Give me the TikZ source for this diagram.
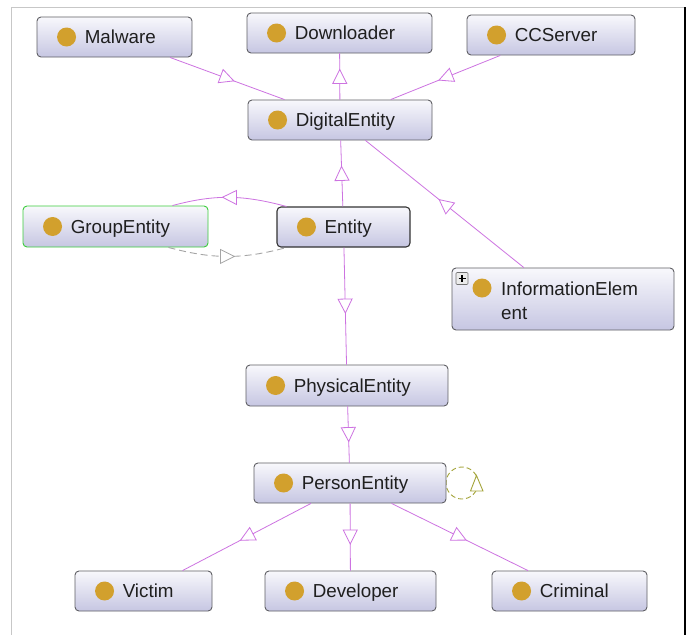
\documentclass[tikz,border=0pt]{standalone}
\usepackage{fontspec}
\setmainfont{Liberation Sans}
\usetikzlibrary{decorations.markings,calc}

\definecolor{edgec}{RGB}{205,115,225}
\definecolor{boxtop}{RGB}{248,248,252}
\definecolor{boxbot}{RGB}{198,198,226}
\definecolor{boxline}{RGB}{95,95,100}
\definecolor{dotc}{RGB}{210,160,45}
\definecolor{loopc}{RGB}{165,165,60}
\definecolor{greenline}{RGB}{60,205,60}
\definecolor{dashc}{RGB}{165,165,165}

\tikzset{
  clsbox/.style={draw=boxline, line width=0.9pt, rounded corners=4pt,
    top color=boxtop, bottom color=boxbot, inner sep=0pt},
  dot/.style={circle, fill=dotc, minimum size=19pt, inner sep=0pt},
  lbl/.style={anchor=base west, inner sep=0pt, text=black!88,
    font=\fontsize{18.8}{24}\selectfont},
  % open triangle placed halfway along a connector, pointing forward
  midtri/.style={decoration={markings, mark=at position 0.5 with {
      \draw[#1, line width=0.8pt, fill=white] (7pt,0pt) -- (-7pt,7pt) -- (-7pt,-7pt) -- cycle;}},
    postaction=decorate},
  isa/.style={draw=edgec, line width=0.8pt, midtri=edgec},
  reln/.style={draw=dashc, line width=0.9pt, dash pattern=on 7pt off 4pt,
    midtri={dashc,solid}},
}

% a class box: #1 extra style, #2 name, #3 centre, #4 width, #5 height, #6 label
\newcommand\owlcls[6][]{%
  \node[clsbox,#1,minimum width=#4,minimum height=#5] (#2) at (#3) {};
  \node[dot] (#2-dot) at ($(#2.west)+(30,0)$) {};
  \node[lbl] (#2-txt) at ($(#2.west)+(48,6.5)$) {#6};}

\begin{document}
\begin{tikzpicture}[x=1pt,y=-1pt]
\useasboundingbox (0,0) rectangle (689,635);
\fill[white] (0,0) rectangle (689,635);

% panel frame
\draw[black!22, line width=0.8pt] (11,635) -- (11,7) -- (685,7);
\draw[black, line width=1.6pt] (685,7) -- (685,635);

% self-loop on PersonEntity (drawn first so the box covers its inner side)
\coordinate (loopc) at (462,483);
\draw[loopc, line width=0.9pt, dash pattern=on 5pt off 3pt] (loopc) circle (16);

% classes
\owlcls{malware}{114.5,37}{155}{40}{Malware}
\owlcls{downloader}{339.5,33}{185}{40}{Downloader}
\owlcls{ccserver}{551,35}{168}{40}{CCServer}
\owlcls{digital}{340,120}{184}{40}{DigitalEntity}
\owlcls[draw=greenline]{group}{115.5,226.5}{185}{41}{GroupEntity}
\owlcls[draw=black!80, line width=1.1pt]{entity}{343.5,227}{133}{40}{Entity}
\owlcls{physical}{347,385.5}{202}{41}{PhysicalEntity}
\owlcls{person}{350,483}{192}{40}{PersonEntity}
\owlcls{victim}{143.5,591}{137}{40}{Victim}
\owlcls{developer}{350.5,591}{171}{40}{Developer}
\owlcls{criminal}{569.5,591}{155}{40}{Criminal}

% InformationElement: wrapped label and expand button
\node[clsbox, minimum width=222, minimum height=62] (info) at (563,299) {};
\node[dot] (info-dot) at (482,288) {};
\node[anchor=north west, inner sep=0pt, align=left, text=black!88,
  font=\fontsize{18.8}{24}\selectfont] (info-txt) at (501,281.5) {InformationElem\\ent};
\node[draw=black!55, line width=0.6pt, fill=black!8, minimum size=12pt,
  inner sep=0pt, rounded corners=1pt] (info-exp) at (462,278.5) {};
\draw[black, line width=1.2pt] ($(info-exp.center)+(-3.5,0)$) -- ($(info-exp.center)+(3.5,0)$);
\draw[black, line width=1.2pt] ($(info-exp.center)+(0,-3.5)$) -- ($(info-exp.center)+(0,3.5)$);

% subclass connectors
\draw[isa] (digital) -- (downloader);
\draw[isa] (malware) -- (digital);
\draw[isa] (ccserver) -- (digital);
\draw[isa] (entity) -- (digital);
\draw[isa] (info) -- (digital);
\draw[isa] (entity) -- (physical);
\draw[isa] (physical) -- (person);
\draw[isa] (person) -- (victim);
\draw[isa] (person) -- (developer);
\draw[isa] (person) -- (criminal);

% Entity <-> GroupEntity
\draw[isa] ($(entity.north west)+(10,0)$) to[out=165,in=15] ($(group.north east)+(-36,0)$);
\draw[reln] ($(group.south east)+(-40,0)$) to[out=-15,in=195] ($(entity.south west)+(10,0)$);

% arrowhead of the self-loop
\draw[loopc, line width=0.9pt, fill=white] (476.5,475.5) -- (470.5,491) -- (483,491) -- cycle;
\end{tikzpicture}
\end{document}
